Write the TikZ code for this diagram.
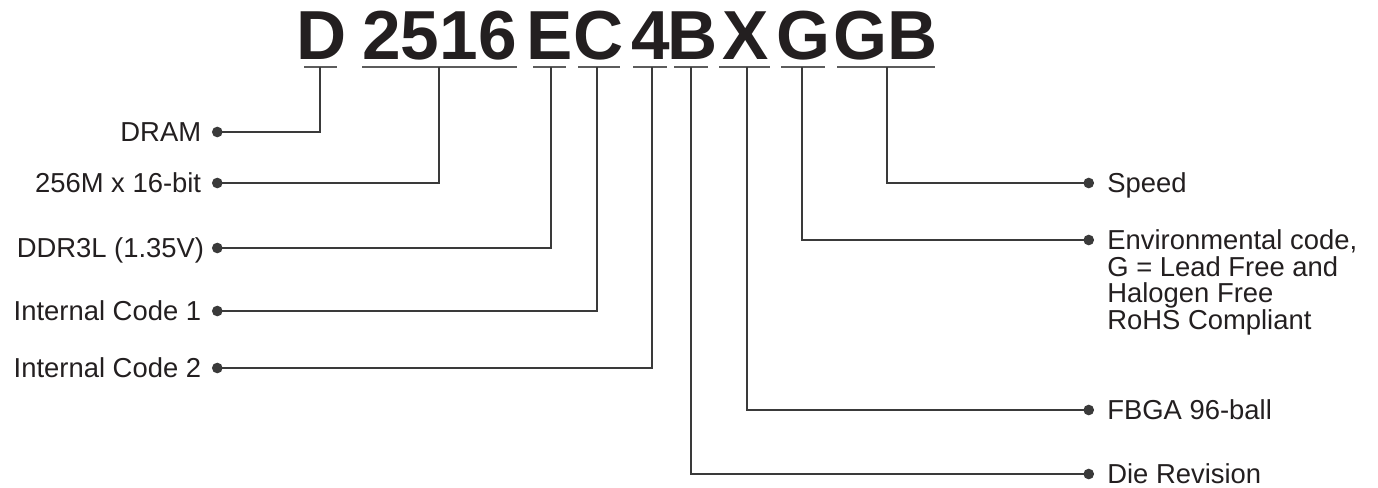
\documentclass[tikz,border=0pt]{standalone}
\usepackage{fontspec}
\setmainfont{Liberation Sans}
\usepackage{xcolor}
\usepackage{tikz}
\usetikzlibrary{arrows.meta,positioning}

\definecolor{ink}{HTML}{231F20}
\definecolor{wirec}{HTML}{3A3A3A}
\definecolor{ulinec}{HTML}{5C5C5C}

\begin{document}
\begin{tikzpicture}[
  x=0.02cm, y=-0.02cm,
  part/.style={anchor=base, inner sep=0pt, text=ink,
               font=\fontsize{39.5}{39.5}\selectfont\bfseries},
  llabel/.style={anchor=base east, inner sep=0pt, text=ink,
                 font=\fontsize{15.6}{15.2}\selectfont,
                 xshift=-0.21cm, yshift=-5.6pt},
  rlabel/.style={anchor=base west, inner sep=0pt, text=ink,
                 font=\fontsize{15.6}{15.1}\selectfont,
                 xshift=0.26cm, yshift=-5.6pt},
  uline/.style={draw=ulinec, line width=1.1pt},
  wire/.style={{Circle[length=6pt]}-, draw=wirec, line width=0.75pt},
]
\useasboundingbox (0,0) rectangle (1378,487);

%% Part number, one node per field (baseline y = 59)
\node[part] (pD)    at (322,59)   {D};
\node[part] (pOrg)  at (439.5,59) {2516};
\node[part] (pE)    at (550,59)   {E};
\node[part] (pC)    at (599,59)   {C};
\node[part] (pFour) at (651,59)   {4};
\node[part] (pB)    at (693,59)   {B};
\node[part] (pX)    at (746,59)   {X};
\node[part] (pG)    at (803,59)   {G};
\node[part] (pGB)   at (886,59)   {GB};

%% Underlines below each field
\draw[uline] (304,67) -- (337,67);
\draw[uline] (362,67) -- (517,67);
\draw[uline] (533,67) -- (566,67);
\draw[uline] (578,67) -- (620,67);
\draw[uline] (633,67) -- (667,67);
\draw[uline] (674,67) -- (708,67);
\draw[uline] (719,67) -- (770,67);
\draw[uline] (781,67) -- (825,67);
\draw[uline] (837,67) -- (935,67);

%% Tick points on the underlines
\coordinate (tD)    at (320,67);
\coordinate (tOrg)  at (439,67);
\coordinate (tE)    at (551,67);
\coordinate (tC)    at (597,67);
\coordinate (tFour) at (652,67);
\coordinate (tB)    at (691,67);
\coordinate (tX)    at (747,67);
\coordinate (tG)    at (802,67);
\coordinate (tGB)   at (887,67);

%% Left column — dot ends and labels
\coordinate (dDram) at (212,132);
\coordinate (dOrg)  at (212,183);
\coordinate (dVolt) at (212,248);
\coordinate (dIcA)  at (212,311);
\coordinate (dIcB)  at (212,368);

\node[llabel] (lDram) at (dDram) {DRAM};
\node[llabel] (lOrg)  at (dOrg)  {256M x 16-bit};
\node[llabel, xshift=0.06cm] (lVolt) at (dVolt) {DDR3L (1.35V)};
\node[llabel] (lIcA)  at (dIcA)  {Internal Code 1};
\node[llabel] (lIcB)  at (dIcB)  {Internal Code 2};

%% Right column — dot ends and labels
\coordinate (dSpeed) at (1094,183);
\coordinate (dEnv)   at (1094,240);
\coordinate (dPkg)   at (1094,410);
\coordinate (dRev)   at (1094,474);

\node[rlabel] (lSpeed) at (dSpeed) {Speed};
\node[rlabel] (lEnv)   at (dEnv)   {%
  \vtop{\baselineskip=15.1pt
    \hbox{Environmental code,}
    \hbox{G = Lead Free and}
    \hbox{Halogen Free}
    \hbox{RoHS Compliant}}};
\node[rlabel] (lPkg)   at (dPkg)   {FBGA 96-ball};
\node[rlabel] (lRev)   at (dRev)   {Die Revision};

%% ── Connectors ──────────────────────────────────────────────
\draw[wire] (dDram) -| (tD);
\draw[wire] (dOrg)  -| (tOrg);
\draw[wire] (dVolt) -| (tE);
\draw[wire] (dIcA)  -| (tC);
\draw[wire] (dIcB)  -| (tFour);

\draw[wire] (dRev)   -| (tB);
\draw[wire] (dPkg)   -| (tX);
\draw[wire] (dEnv)   -| (tG);
\draw[wire] (dSpeed) -| (tGB);

\end{tikzpicture}
\end{document}
